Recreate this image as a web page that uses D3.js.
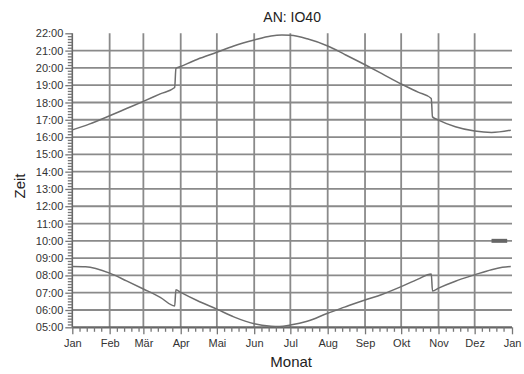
<!DOCTYPE html>
<html><head><meta charset="utf-8">
<script src="https://cdn.jsdelivr.net/npm/d3@7"></script>
<style>
html,body{margin:0;padding:0;background:#fff;}
svg{display:block;font-family:"Liberation Sans",Arial,sans-serif;}
</style></head>
<body><svg id="c" width="524" height="374"></svg>
<script>
const title = "AN: IO40";
const xLabel = "Monat";
const yLabel = "Zeit";
const monthLabels = ["Jan","Feb","Mär","Apr","Mai","Jun","Jul","Aug","Sep","Okt","Nov","Dez","Jan"];
const yTickHours = [5,6,7,8,9,10,11,12,13,14,15,16,17,18,19,20,21,22];

const sunsetDates = ["01-01","01-15","02-01","02-15","03-01","03-15","03-27","03-28","04-01","04-15","05-01","05-15","06-01","06-15","06-24","07-01","07-15","08-01","08-15","09-01","09-15","10-01","10-15","10-26","10-27","11-01","11-15","12-01","12-15","12-31"];
const sunsetTimes = ["16:25","16:45","17:14","17:39","18:04","18:30","18:52","19:58","20:05","20:30","20:54","21:16","21:37","21:51","21:54","21:53","21:41","21:16","20:47","20:11","19:40","19:04","18:36","18:14","17:10","16:59","16:36","16:21","16:16","16:24"];

const sunriseDates = ["01-01","01-12","02-01","02-15","03-01","03-15","03-27","03-28","04-01","04-15","05-01","05-15","06-01","06-15","06-22","07-01","07-15","08-01","08-15","09-01","09-15","10-01","10-15","10-26","10-27","11-01","11-15","12-01","12-15","12-24","12-31"];
const sunriseTimes = ["08:31","08:30","08:08","07:41","07:13","06:44","06:14","07:10","07:01","06:32","06:03","05:36","05:12","05:04","05:03","05:08","05:21","05:49","06:10","06:35","06:54","07:21","07:47","08:05","07:06","07:16","07:40","08:02","08:20","08:28","08:31"];

const markerDates = ["12-15","12-28"];
const markerTimes = ["10:00","10:00"];

const year = 2023;
const parseD = s => new Date(year, +s.slice(0,2)-1, +s.slice(3,5));
const parseT = s => +s.slice(0,2) + (+s.slice(3,5))/60;

const svg = d3.select("#c");
const L = 72.3, R = 512, T = 33.3, B = 327.3;
const x = d3.scaleTime().domain([new Date(year,0,1), new Date(year+1,0,1)]).range([L,R]);
const y = d3.scaleLinear().domain([5,22]).range([B,T]);

const monthStarts = d3.range(13).map(m => new Date(year, m, 1));
const minorDays = [];
for (let m=0;m<12;m++) for (const d of [7,13,19,25]) minorDays.push(new Date(year,m,d));
const minorY = [];
for (let h=5; h<22; h++) for (let k=1;k<6;k++) minorY.push(h + k/6);

// grid
const g = svg.append("g");
g.selectAll("line.h").data(yTickHours.filter(h=>h>5 && h<22)).join("line")
  .attr("x1",L).attr("x2",R).attr("y1",d=>y(d)).attr("y2",d=>y(d))
  .attr("stroke","#8a8a8a").attr("stroke-width",1.8);
g.selectAll("line.v").data(monthStarts.slice(1,12)).join("line")
  .attr("x1",d=>x(d)).attr("x2",d=>x(d)).attr("y1",T).attr("y2",B)
  .attr("stroke","#8a8a8a").attr("stroke-width",1.8);

// axes
const yAxis = d3.axisLeft(y).tickValues(yTickHours)
  .tickFormat(h => String(h).padStart(2,"0")+":00").tickSize(7).tickPadding(2);
const ya = svg.append("g").attr("transform",`translate(${L},0)`).call(yAxis);
svg.append("g").attr("transform",`translate(${L},0)`).call(d3.axisLeft(y).tickValues(minorY).tickFormat("").tickSize(4.5))
  .call(a=>a.select(".domain").remove());
const xAxis = d3.axisBottom(x).tickValues(monthStarts).tickFormat((d,i)=>monthLabels[i]).tickSize(7).tickPadding(5);
const xa = svg.append("g").attr("transform",`translate(0,${B})`).call(xAxis);
svg.append("g").attr("transform",`translate(0,${B})`).call(d3.axisBottom(x).tickValues(minorDays).tickFormat("").tickSize(4.5))
  .call(a=>a.select(".domain").remove());

svg.selectAll(".tick line").attr("stroke","#777").attr("stroke-width",1.3);
svg.selectAll(".tick text").attr("fill","#333").style("font-size","11px").style("font-family","'Liberation Sans',Arial,sans-serif");
ya.select(".domain").attr("stroke","#666").attr("stroke-width",1.6).attr("d",`M0,${T}V${B}`);
xa.select(".domain").attr("stroke","#666").attr("stroke-width",2.2).attr("d",`M${L},0H${R}`);

// series
const line = d3.line().x(d=>x(d[0])).y(d=>y(d[1])).curve(d3.curveMonotoneX);
const sunset = sunsetDates.map((d,i)=>[parseD(d), parseT(sunsetTimes[i])]);
const sunrise = sunriseDates.map((d,i)=>[parseD(d), parseT(sunriseTimes[i])]);
const marker = markerDates.map((d,i)=>[parseD(d), parseT(markerTimes[i])]);
svg.append("path").datum(sunset).attr("d",line).attr("fill","none").attr("stroke","#6e6e6e").attr("stroke-width",1.5);
svg.append("path").datum(sunrise).attr("d",line).attr("fill","none").attr("stroke","#6e6e6e").attr("stroke-width",1.5);
svg.append("path").datum(marker).attr("d",d3.line().x(d=>x(d[0])).y(d=>y(d[1])))
  .attr("fill","none").attr("stroke","#666").attr("stroke-width",4);

// labels
svg.append("text").attr("x",(L+R)/2).attr("y",22).attr("text-anchor","middle")
  .style("font-size","14px").attr("fill","#222").text(title);
svg.append("text").attr("x",(L+R)/2-1).attr("y",367).attr("text-anchor","middle")
  .style("font-size","15px").attr("fill","#222").text(xLabel);
svg.append("text").attr("transform",`translate(25,186) rotate(-90)`).attr("text-anchor","middle")
  .style("font-size","15px").attr("fill","#222").text(yLabel);
</script></body></html>
